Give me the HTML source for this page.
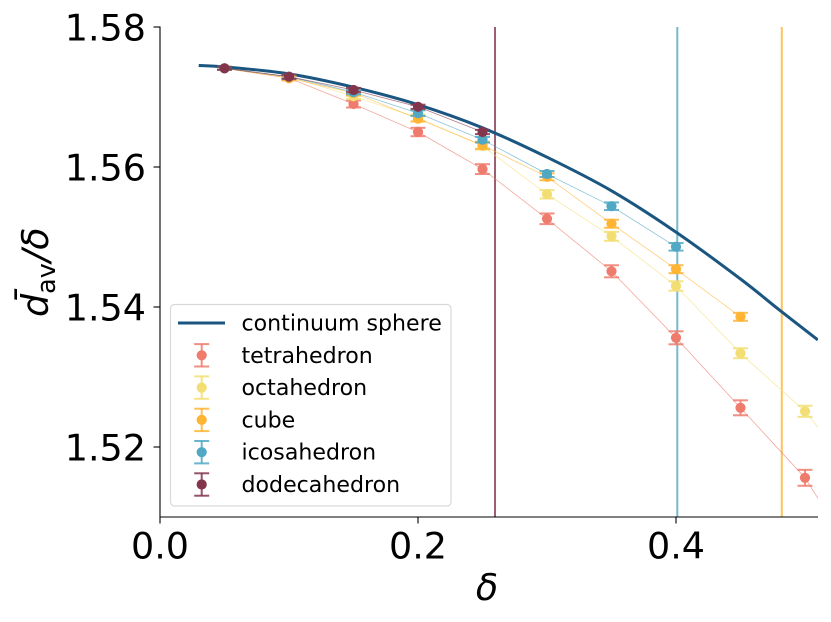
<!DOCTYPE html>
<html>
<head>
<meta charset="utf-8">
<title>Mean distance vs delta</title>
<style>
html,body{margin:0;padding:0;background:#fff;}
svg{display:block;font-family:"DejaVu Sans","Liberation Sans",sans-serif;}
</style>
</head>
<body>
<svg id="chart" xmlns="http://www.w3.org/2000/svg" width="831" height="622" viewBox="0 0 831 622">
<defs><clipPath id="plot-clip"><rect x="160" y="27" width="658" height="490"></rect></clipPath></defs>
<g id="vlines" clip-path="url(#plot-clip)"></g>
<g id="series" clip-path="url(#plot-clip)"></g>
<g id="axes"></g>
<text x="487" y="600" font-size="36.5" font-style="italic" text-anchor="middle">δ</text>
<g transform="translate(48,317) rotate(-90)">
<text x="0" y="0" font-size="36.5"><tspan font-style="italic">d̄</tspan><tspan font-size="25.5" dy="7">av</tspan><tspan dy="-7" dx="1" font-style="italic">/δ</tspan></text>
</g>
<g id="legend"></g>
</svg>
<script>
const xTicks = [0.0, 0.2, 0.4];
const yTicks = [1.52, 1.54, 1.56, 1.58];
const xTickLabels = ["0.0", "0.2", "0.4"];
const yTickLabels = ["1.52", "1.54", "1.56", "1.58"];

const sphereDelta = [0.03, 0.05, 0.1, 0.15, 0.2, 0.25, 0.3, 0.35, 0.4, 0.45, 0.48, 0.51];
const sphereValues = [1.5745, 1.5743, 1.5733, 1.5714, 1.5689, 1.5656, 1.5614, 1.5566, 1.5507, 1.5440, 1.5396, 1.5353];

const tetraDelta = [0.05, 0.1, 0.15, 0.2, 0.25, 0.3, 0.35, 0.4, 0.45, 0.5, 0.55];
const tetraValues = [1.5741, 1.5727, 1.5690, 1.5650, 1.5597, 1.5526, 1.5451, 1.5356, 1.5256, 1.5156, 1.5010];
const tetraErrors = [0.0002, 0.0003, 0.0005, 0.0006, 0.0007, 0.00076, 0.00086, 0.00093, 0.00107, 0.00114, 0.0012];

const octaDelta = [0.05, 0.1, 0.15, 0.2, 0.25, 0.3, 0.35, 0.4, 0.45, 0.5, 0.55];
const octaValues = [1.5741, 1.5729, 1.5701, 1.5670, 1.5630, 1.5561, 1.5501, 1.5430, 1.5334, 1.5251, 1.5137];
const octaErrors = [0.0002, 0.0003, 0.0004, 0.0005, 0.0005, 0.0006, 0.00064, 0.00067, 0.00071, 0.00079, 0.0008];

const cubeDelta = [0.05, 0.1, 0.15, 0.2, 0.25, 0.3, 0.35, 0.4, 0.45];
const cubeValues = [1.5741, 1.5727, 1.5706, 1.5669, 1.5631, 1.5586, 1.5519, 1.5454, 1.5386];
const cubeErrors = [0.0002, 0.0003, 0.0004, 0.0004, 0.0005, 0.0005, 0.00057, 0.00057, 0.00057];

const icosaDelta = [0.05, 0.1, 0.15, 0.2, 0.25, 0.3, 0.35, 0.4];
const icosaValues = [1.5741, 1.5729, 1.5707, 1.5677, 1.5639, 1.5590, 1.5544, 1.5486];
const icosaErrors = [0.0002, 0.0003, 0.0003, 0.0004, 0.0004, 0.00043, 0.00054, 0.00054];

const dodecaDelta = [0.05, 0.1, 0.15, 0.2, 0.25];
const dodecaValues = [1.5741, 1.5729, 1.5710, 1.5686, 1.5650];
const dodecaErrors = [0.0002, 0.0003, 0.0003, 0.0003, 0.0003];

const thresholdDeltas = [0.2597, 0.401, 0.482];
const legendLabels = ["continuum sphere", "tetrahedron", "octahedron", "cube", "icosahedron", "dodecahedron"];

const NS = "http://www.w3.org/2000/svg";
const xScale = d => 160 + d * 1290;
const yScale = v => 27 + (1.58 - v) * 7000;

function mk(parent, tag, attrs, text) {
  const el = document.createElementNS(NS, tag);
  for (const k in attrs) el.setAttribute(k, attrs[k]);
  if (text !== undefined) el.textContent = text;
  parent.appendChild(el);
  return el;
}

function smoothPath(xs, ys) {
  const p = xs.map((d, i) => [xScale(d), yScale(ys[i])]);
  let out = "M" + p[0][0] + "," + p[0][1];
  for (let i = 0; i < p.length - 1; i++) {
    const a = p[Math.max(i - 1, 0)], b = p[i], c = p[i + 1], e = p[Math.min(i + 2, p.length - 1)];
    const c1x = b[0] + (c[0] - a[0]) / 6, c1y = b[1] + (c[1] - a[1]) / 6;
    const c2x = c[0] - (e[0] - b[0]) / 6, c2y = c[1] - (e[1] - b[1]) / 6;
    out += " C" + c1x + "," + c1y + " " + c2x + "," + c2y + " " + c[0] + "," + c[1];
  }
  return out;
}

const vlineGroup = document.getElementById("vlines");
const seriesGroup = document.getElementById("series");
const axesGroup = document.getElementById("axes");
const legendGroup = document.getElementById("legend");

const colors = {
  sphere: "#1a5680",
  tetra: "#ee7b6c",
  octa: "#f3de73",
  cube: "#ffb433",
  icosa: "#50a8c4",
  dodeca: "#83354c"
};
const thresholdColors = [colors.dodeca, colors.icosa, colors.cube];

thresholdDeltas.forEach((d, i) => {
  const l = mk(vlineGroup, "line", {x1: xScale(d), x2: xScale(d), y1: 27, y2: 517, stroke: thresholdColors[i], "stroke-width": 2, "stroke-opacity": 0.8});
  
  
});

const spherePath = mk(seriesGroup, "path", {
  d: smoothPath(sphereDelta, sphereValues),
  fill: "none", stroke: colors.sphere, "stroke-width": 3, "stroke-linejoin": "round"
});



const polyhedra = [
  {key: "tetra", xs: tetraDelta, ys: tetraValues, es: tetraErrors},
  {key: "octa", xs: octaDelta, ys: octaValues, es: octaErrors},
  {key: "cube", xs: cubeDelta, ys: cubeValues, es: cubeErrors},
  {key: "icosa", xs: icosaDelta, ys: icosaValues, es: icosaErrors},
  {key: "dodeca", xs: dodecaDelta, ys: dodecaValues, es: dodecaErrors}
];

function drawErrorMark(parent, cx, cy, hi, lo, color) {
  mk(parent, "line", {x1: cx, x2: cx, y1: hi, y2: lo, stroke: color, "stroke-width": 2, "stroke-opacity": 0.85});
  mk(parent, "line", {x1: cx - 7.5, x2: cx + 7.5, y1: hi, y2: hi, stroke: color, "stroke-width": 2, "stroke-opacity": 0.85});
  mk(parent, "line", {x1: cx - 7.5, x2: cx + 7.5, y1: lo, y2: lo, stroke: color, "stroke-width": 2, "stroke-opacity": 0.85});
  mk(parent, "circle", {cx: cx, cy: cy, r: 5.1, fill: color});
}

polyhedra.forEach(s => {
  const color = colors[s.key];
  const g = mk(seriesGroup, "g", {});
  
  
  mk(g, "polyline", {
    points: s.xs.map((d, i) => xScale(d) + "," + yScale(s.ys[i])).join(" "),
    fill: "none", stroke: color, "stroke-width": 0.8, "stroke-opacity": 0.65
  });
  s.xs.forEach((d, i) => {
    const pt = mk(g, "g", {});
    
    
    drawErrorMark(pt, xScale(d), yScale(s.ys[i]), yScale(s.ys[i] + s.es[i]), yScale(s.ys[i] - s.es[i]), color);
  });
});

const ySpine = mk(axesGroup, "line", {x1: 160, x2: 160, y1: 26.5, y2: 517.5, stroke: "#000", "stroke-width": 1.1});


const xSpine = mk(axesGroup, "line", {x1: 159.5, x2: 818, y1: 517, y2: 517, stroke: "#000", "stroke-width": 1.1});



xTicks.forEach((t, i) => {
  const tick = mk(axesGroup, "line", {x1: xScale(t), x2: xScale(t), y1: 517, y2: 523.5, stroke: "#000", "stroke-width": 1.1});
  
  
  const label = mk(axesGroup, "text", {x: xScale(t), y: 558.5, "font-size": 36.5, "text-anchor": "middle"}, xTickLabels[i]);
  
  
});
yTicks.forEach((t, i) => {
  const tick = mk(axesGroup, "line", {x1: 153.5, x2: 160, y1: yScale(t), y2: yScale(t), stroke: "#000", "stroke-width": 1.1});
  
  
  const label = mk(axesGroup, "text", {x: 146, y: yScale(t) + 13.5, "font-size": 36.5, "text-anchor": "end"}, yTickLabels[i]);
  
  
});

const legendBox = mk(legendGroup, "rect", {x: 170.5, y: 304.5, width: 280.5, height: 201.5, rx: 4, ry: 4, fill: "#fff", "fill-opacity": 0.8, stroke: "#d9d9d9", "stroke-width": 1.2});



const legendKeys = ["sphere", "tetra", "octa", "cube", "icosa", "dodeca"];
legendLabels.forEach((name, i) => {
  const cy = 323 + i * 32.3;
  const entry = mk(legendGroup, "g", {});
  
  
  const color = colors[legendKeys[i]];
  if (i === 0) {
    mk(entry, "line", {x1: 178, x2: 225, y1: cy, y2: cy, stroke: color, "stroke-width": 3});
  } else {
    drawErrorMark(entry, 201.7, cy, cy - 11.2, cy + 11.2, color);
  }
  mk(entry, "text", {x: 241.5, y: cy + 7.5, "font-size": 22.1}, name);
});
</script>
</body>
</html>
